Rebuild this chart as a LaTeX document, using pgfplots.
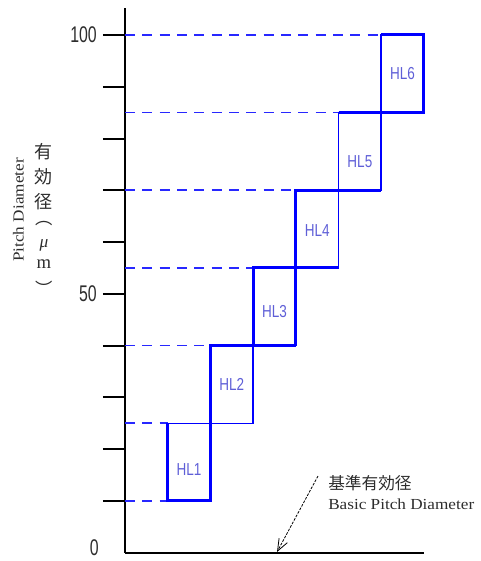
\documentclass[border=0pt]{standalone}
\usepackage{pgfplots}
\pgfplotsset{compat=1.18}
\usepackage{fontspec}
\setmainfont{Liberation Sans}
\newfontfamily\serifx{Liberation Serif}
\newfontfamily\cjk{Noto Sans CJK JP}
\usetikzlibrary{arrows.meta}
\definecolor{boxblue}{RGB}{0,0,255}
\definecolor{dashblue}{RGB}{40,40,255}
\definecolor{lblblue}{RGB}{95,95,215}
\definecolor{txtgray}{RGB}{45,45,45}
\newcommand{\tl}[1]{\fontsize{17}{17}\selectfont\scalebox{0.7}[1]{#1}}
\newcommand{\hl}[1]{\fontsize{13}{13}\selectfont\scalebox{0.78}[1]{#1}}
\begin{document}
\begin{tikzpicture}
\useasboundingbox (0,0) rectangle (360pt,-420.75pt);
\begin{axis}[
  at={(93.75pt,-414.525pt)}, anchor=south west,
  scale only axis, width=224.2pt, height=408.5pt,
  xmin=0, xmax=7, ymin=0, ymax=105.2,
  axis x line=bottom, axis y line=left,
  axis line style={-, line width=1.5pt, black},
  xtick=\empty,
  ytick={10,20,...,100},
  yticklabels={,,,,\tl{50},,,,,\tl{100}},
  major tick length=16.5pt, tick align=outside,
  tick style={line width=1.5pt, black},
  yticklabel style={inner sep=0pt, xshift=-4.5pt, text=txtgray},
  clip=false,
]
% dashed reference lines
\addplot[dashblue, line width=1.2pt, dash pattern=on 7.5pt off 5.5pt] coordinates {(0,10)(1,10)};
\addplot[dashblue, line width=1.2pt, dash pattern=on 7.5pt off 5.5pt] coordinates {(0,25)(1,25)};
\addplot[dashblue, line width=1.2pt, dash pattern=on 7.5pt off 5.5pt] coordinates {(0,40)(2,40)};
\addplot[dashblue, line width=1.2pt, dash pattern=on 7.5pt off 5.5pt] coordinates {(0,55)(3,55)};
\addplot[dashblue, line width=1.2pt, dash pattern=on 7.5pt off 5.5pt] coordinates {(0,70)(4,70)};
\addplot[dashblue, line width=1.2pt, dash pattern=on 7.5pt off 5.5pt] coordinates {(0,85)(5,85)};
\addplot[dashblue, line width=1.2pt, dash pattern=on 7.5pt off 5.5pt] coordinates {(0,100)(6,100)};
% tolerance boxes (thin outline)
\addplot[boxblue, line width=1.1pt] coordinates {(1,10)(2,10)(2,25)(1,25)(1,10)};
\addplot[boxblue, line width=1.1pt] coordinates {(2,25)(3,25)(3,40)(2,40)(2,25)};
\addplot[boxblue, line width=1.1pt] coordinates {(3,40)(4,40)(4,55)(3,55)(3,40)};
\addplot[boxblue, line width=1.1pt] coordinates {(4,55)(5,55)(5,70)(4,70)(4,55)};
\addplot[boxblue, line width=1.1pt] coordinates {(5,70)(6,70)(6,85)(5,85)(5,70)};
\addplot[boxblue, line width=1.1pt] coordinates {(6,85)(7,85)(7,100)(6,100)(6,85)};
% thick edges
\addplot[boxblue, line width=2.2pt, line join=miter] coordinates {(1,25)(1,10)(2,10)(2,40)(4,40)};
\addplot[boxblue, line width=2.2pt] coordinates {(3,40)(3,55)(5,55)};
\addplot[boxblue, line width=2.2pt] coordinates {(4,40)(4,70)(6,70)};
\addplot[boxblue, line width=2.2pt, line join=miter] coordinates {(5,85)(7,85)(7,100)(6,100)};
% box labels
\node[text=lblblue] at (axis cs:1.5,16.0) {\hl{HL1}};
\node[text=lblblue] at (axis cs:2.5,32.5) {\hl{HL2}};
\node[text=lblblue] at (axis cs:3.5,46.6) {\hl{HL3}};
\node[text=lblblue] at (axis cs:4.5,62.3) {\hl{HL4}};
\node[text=lblblue] at (axis cs:5.5,75.6) {\hl{HL5}};
\node[text=lblblue] at (axis cs:6.5,92.6) {\hl{HL6}};
\end{axis}
\begin{scope}[x=0.75pt, y=-0.75pt]
% zero label
\node[text=txtgray, anchor=east, inner sep=0pt] at (99,548) {\tl{0}};
% y-axis title
\node[rotate=90, text=txtgray] at (18.5,210) {\serifx\fontsize{11.5}{11.5}\selectfont\scalebox{1.12}[1]{Pitch Diameter}};
\begin{scope}[every node/.style={text=txtgray, inner sep=0pt}]
\node at (44,151.7) {\cjk\fontsize{13.5}{13.5}\selectfont 有};
\node at (44,176.7) {\cjk\fontsize{13.5}{13.5}\selectfont 効};
\node at (44,201.7) {\cjk\fontsize{13.5}{13.5}\selectfont 径};
\node at (44,224) {\cjk\fontsize{13}{13}\selectfont ︵};
\node at (44,245) {\serifx\itshape\fontsize{13}{13}\selectfont μ};
\node at (44,264) {\serifx\fontsize{14}{14}\selectfont m};
\node at (44,288) {\cjk\fontsize{13}{13}\selectfont ︶};
\end{scope}
% annotation
\draw[black, line width=0.6pt, dash pattern=on 2pt off 1pt, -{Straight Barb[length=9pt, width=7pt]}] (318,476) -- (277,552);
\node[text=txtgray, anchor=west, inner sep=0pt] at (328,483) {\cjk\fontsize{12.5}{12.5}\selectfont 基準有効径};
\node[text=txtgray, anchor=west, inner sep=0pt] at (328,504) {\serifx\fontsize{11.5}{11.5}\selectfont\scalebox{1.12}[1]{Basic Pitch Diameter}};
\end{scope}
\end{tikzpicture}
\end{document}
